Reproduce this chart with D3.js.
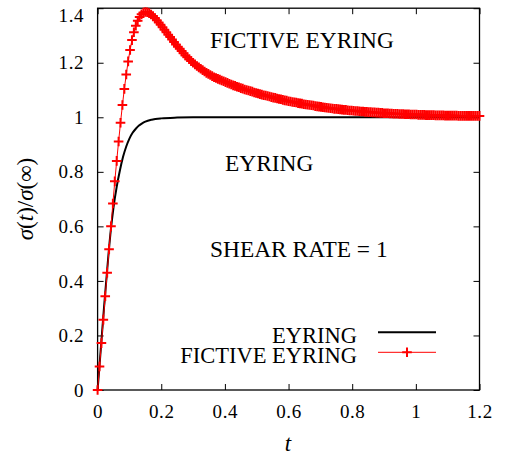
<!DOCTYPE html>
<html>
<head>
<meta charset="utf-8">
<script src="https://cdn.jsdelivr.net/npm/d3@7"></script>
<style>
body { margin: 0; background: #fff; }
text { font-family: "Liberation Serif", serif; fill: #000; }
</style>
</head>
<body>
<div id="chart"></div>
<script>
// tick values
var xTicks = [0, 0.2, 0.4, 0.6, 0.8, 1, 1.2];
var yTicks = [0, 0.2, 0.4, 0.6, 0.8, 1, 1.2, 1.4];

// EYRING curve
var eyringT = [0, 0.01, 0.02, 0.03, 0.04, 0.05, 0.06, 0.07, 0.08, 0.09, 0.1, 0.11, 0.12, 0.13, 0.14, 0.15, 0.17, 0.2, 0.25, 0.3, 0.4, 0.6, 0.8, 1, 1.2];
var eyringY = [0, 0.15, 0.30, 0.44, 0.57, 0.67, 0.745, 0.805, 0.855, 0.893, 0.922, 0.943, 0.958, 0.97, 0.978, 0.984, 0.991, 0.996, 0.999, 1, 1, 1, 1, 1, 1];

// FICTIVE EYRING, sampled every tStep
var tStep = 0.006;
var fictiveY = [
  0, 0.086, 0.172, 0.258, 0.344, 0.430, 0.516, 0.600, 0.684, 0.765,
  0.840, 0.911, 0.980, 1.045, 1.104, 1.157, 1.205, 1.247, 1.283, 1.312,
  1.336, 1.354, 1.368, 1.378, 1.384, 1.386, 1.385, 1.382, 1.377, 1.371,
  1.364, 1.356, 1.348, 1.339, 1.330, 1.321, 1.312, 1.303, 1.294, 1.285,
  1.276, 1.267, 1.259, 1.251, 1.243, 1.235, 1.227, 1.220, 1.213, 1.206,
  1.200, 1.194, 1.188, 1.183, 1.178, 1.173, 1.168, 1.163, 1.159, 1.155,
  1.151, 1.147, 1.144, 1.141, 1.138, 1.135, 1.132, 1.129, 1.126, 1.123,
  1.120, 1.117, 1.115, 1.112, 1.110, 1.107, 1.105, 1.102, 1.100, 1.098,
  1.096, 1.094, 1.091, 1.089, 1.087, 1.085, 1.083, 1.081, 1.080, 1.078,
  1.076, 1.074, 1.072, 1.071, 1.069, 1.067, 1.066, 1.064, 1.062, 1.061,
  1.059, 1.058, 1.056, 1.055, 1.054, 1.052, 1.051, 1.050, 1.048, 1.047,
  1.046, 1.045, 1.044, 1.043, 1.041, 1.040, 1.039, 1.038, 1.037, 1.036,
  1.035, 1.034, 1.033, 1.032, 1.031, 1.031, 1.030, 1.029, 1.028, 1.027,
  1.027, 1.026, 1.025, 1.025, 1.024, 1.023, 1.023, 1.022, 1.021, 1.021,
  1.020, 1.020, 1.019, 1.019, 1.018, 1.018, 1.017, 1.017, 1.016, 1.016,
  1.015, 1.015, 1.015, 1.014, 1.014, 1.013, 1.013, 1.013, 1.012, 1.012,
  1.012, 1.011, 1.011, 1.011, 1.010, 1.010, 1.010, 1.010, 1.009, 1.009,
  1.009, 1.009, 1.008, 1.008, 1.008, 1.008, 1.008, 1.007, 1.007, 1.007,
  1.007, 1.007, 1.006, 1.006, 1.006, 1.006, 1.006, 1.006, 1.006, 1.005,
  1.005, 1.005, 1.005, 1.005, 1.005, 1.005, 1.005, 1.005, 1.005, 1.005,
  1.005
];

var svgWidth = 505;
var svgHeight = 455;
var margin = {top: 8.2, right: 25.5, bottom: 65, left: 97.6};
var width = svgWidth - margin.left - margin.right;
var height = svgHeight - margin.top - margin.bottom;

var svg = d3.select("#chart")
  .append("svg")
  .attr("width", svgWidth)
  .attr("height", svgHeight);

var chartGroup = svg.append("g")
  .attr("transform", `translate(${margin.left},${margin.top})`);

var xScale = d3.scaleLinear().domain([0, 1.2]).range([0, width]);
var yScale = d3.scaleLinear().domain([0, 1.4]).range([height, 0]);

var fmt = function(d) { return String(d); };

// axes, ticks pointing inward on all four sides
var bottomAxis = d3.axisBottom(xScale).tickValues(xTicks).tickFormat(fmt).tickSizeInner(-6).tickSizeOuter(0).tickPadding(14.5);
var leftAxis = d3.axisLeft(yScale).tickValues(yTicks).tickFormat(fmt).tickSizeInner(-6).tickSizeOuter(0).tickPadding(13.5);
var topAxis = d3.axisTop(xScale).tickValues(xTicks).tickFormat("").tickSizeInner(-6).tickSizeOuter(0);
var rightAxis = d3.axisRight(yScale).tickValues(yTicks).tickFormat("").tickSizeInner(-6).tickSizeOuter(0);

function styleAxis(g) {
  g.select(".domain").remove();
  g.selectAll(".tick line").attr("stroke", "#000").attr("stroke-width", 1);
  g.selectAll(".tick text").attr("font-family", "Liberation Serif").attr("font-size", 19).attr("letter-spacing", 0.6);
}

chartGroup.append("g").attr("transform", `translate(0,${height})`).call(bottomAxis).call(styleAxis);
var yAxisG = chartGroup.append("g").call(leftAxis).call(styleAxis);
// top label sits a little lower so it stays on the page
yAxisG.selectAll(".tick text").filter(d => d === 1.4).attr("dy", "0.7em");
chartGroup.append("g").call(topAxis).call(styleAxis);
chartGroup.append("g").attr("transform", `translate(${width},0)`).call(rightAxis).call(styleAxis);

chartGroup.append("rect")
  .attr("width", width)
  .attr("height", height)
  .attr("fill", "none")
  .attr("stroke", "#000")
  .attr("stroke-width", 1.3);

// curves
var eyringData = eyringT.map(function(t, i) { return {t: t, y: eyringY[i]}; });
var fictiveData = fictiveY.map(function(y, i) { return {t: i * tStep, y: y}; });

var line = d3.line()
  .x(d => xScale(d.t))
  .y(d => yScale(d.y));

chartGroup.append("path")
  .datum(eyringData)
  .attr("d", line.curve(d3.curveMonotoneX))
  .attr("fill", "none")
  .attr("stroke", "#000")
  .attr("stroke-width", 2);

chartGroup.append("path")
  .datum(fictiveData)
  .attr("d", d3.line().x(d => xScale(d.t)).y(d => yScale(d.y)))
  .attr("fill", "none")
  .attr("stroke", "red")
  .attr("stroke-width", 1);

var plus = "M-4.8,0H4.8M0,-4.8V4.8";

chartGroup.selectAll(".pt")
  .data(fictiveData)
  .enter()
  .append("path")
  .attr("class", "pt")
  .attr("transform", d => `translate(${xScale(d.t)},${yScale(d.y)})`)
  .attr("d", plus)
  .attr("stroke", "red")
  .attr("stroke-width", 2);

// labels inside the plot
svg.append("text").attr("x", 210).attr("y", 48).attr("font-size", 23.4).text("FICTIVE EYRING");
svg.append("text").attr("x", 225).attr("y", 171).attr("font-size", 23.4).text("EYRING");
svg.append("text").attr("x", 210).attr("y", 257).attr("font-size", 23.4).text("SHEAR RATE = 1");

// legend
var legend = svg.append("g");
legend.append("text").attr("x", 357).attr("y", 343).attr("text-anchor", "end").attr("font-size", 22.5).text("EYRING");
legend.append("text").attr("x", 357).attr("y", 363).attr("text-anchor", "end").attr("font-size", 22.5).text("FICTIVE EYRING");
legend.append("line").attr("x1", 378).attr("x2", 436).attr("y1", 332.3).attr("y2", 332.3).attr("stroke", "#000").attr("stroke-width", 2);
legend.append("line").attr("x1", 378).attr("x2", 436).attr("y1", 352.3).attr("y2", 352.3).attr("stroke", "red").attr("stroke-width", 1);
legend.append("path").attr("transform", "translate(407,352.3)").attr("d", plus).attr("stroke", "red").attr("stroke-width", 2);

// axis titles
svg.append("text")
  .attr("x", 288)
  .attr("y", 451)
  .attr("text-anchor", "middle")
  .attr("font-size", 23)
  .attr("font-style", "italic")
  .text("t");

var yTitle = svg.append("text")
  .attr("transform", "translate(33,199) rotate(-90)")
  .attr("text-anchor", "middle")
  .attr("font-size", 23);
yTitle.append("tspan").attr("font-style", "italic").text("σ");
yTitle.append("tspan").text("(");
yTitle.append("tspan").attr("font-style", "italic").text("t");
yTitle.append("tspan").text(")/");
yTitle.append("tspan").attr("font-style", "italic").text("σ");
yTitle.append("tspan").text("(∞)");
</script>
</body>
</html>
